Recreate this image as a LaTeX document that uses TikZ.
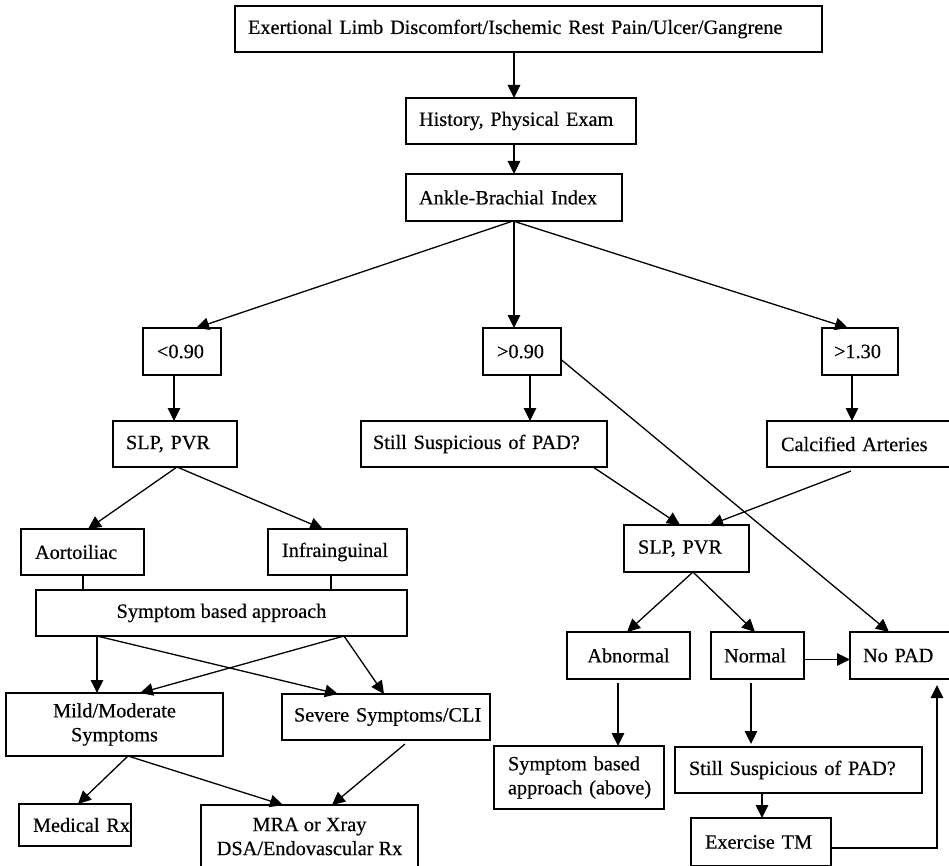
\documentclass[tikz,border=0pt]{standalone}
\usepackage{fontspec}
\setmainfont{Liberation Serif}[FakeBold=0.4]
\usetikzlibrary{arrows.meta,calc}
\begin{document}
\begin{tikzpicture}[x=1pt,y=-1pt,
  box/.style={draw, line width=1.3pt, anchor=north west, outer sep=0pt, inner ysep=0pt,
    font=\fontsize{20.3}{24}\selectfont},
  lbox/.style={box, align=left},
  cbox/.style={box, align=center, inner xsep=0pt},
  arr/.style={line width=1.3pt, -{Triangle[length=13pt,width=12.5pt]}},
  ln/.style={line width=1.3pt}]
\useasboundingbox (0,0) rectangle (949,866);
% nodes
\node[lbox, inner xsep=13pt, text width=561pt, minimum height=46pt] (top) at (235,6) {Exertional Limb Discomfort/Ischemic Rest Pain/Ulcer/Gangrene};
\node[lbox, inner xsep=13pt, text width=204pt, minimum height=46pt] (hist) at (406,98) {History, Physical Exam};
\node[lbox, inner xsep=13pt, text width=190pt, minimum height=47pt] (abi) at (406,174) {Ankle-Brachial Index};
\node[lbox, inner xsep=14pt, text width=50pt, minimum height=47pt] (lt) at (143,328) {\mbox{<0.90}};
\node[lbox, inner xsep=14pt, text width=50pt, minimum height=47pt] (gt) at (483,328) {\mbox{>0.90}};
\node[lbox, inner xsep=12pt, text width=52pt, minimum height=47pt] (gtb) at (822,328) {\mbox{>1.30}};
\node[lbox, inner xsep=13pt, text width=98pt, minimum height=46pt] (slpa) at (113,421) {\mbox{SLP, PVR}};
\node[lbox, inner xsep=12pt, text width=222pt, minimum height=46pt] (stilla) at (361,421) {\mbox{Still Suspicious of PAD?}};
\node[lbox, inner xsep=14pt, text width=156pt, minimum height=46pt] (calc) at (767,421) {\mbox{Calcified Arteries}};
\node[lbox, inner xsep=14pt, text width=95pt, minimum height=46pt] (aorto) at (21,529) {\mbox{Aortoiliac}};
\node[lbox, inner xsep=14pt, text width=111pt, minimum height=46pt] (infra) at (268,529) {\mbox{Infrainguinal}};
\node[lbox, inner xsep=14pt, text width=97pt, minimum height=47pt] (slpb) at (624,525) {\mbox{SLP, PVR}};
\node[cbox, minimum width=371pt, minimum height=46pt] (sba) at (36,590) {Symptom based approach};
\node[cbox, minimum width=123pt, minimum height=47pt] (abn) at (567,632) {Abnormal};
\node[lbox, inner xsep=13pt, text width=67pt, minimum height=47pt] (norm) at (711,632) {\mbox{Normal}};
\node[lbox, inner xsep=13pt, text width=75pt, minimum height=47pt] (nopad) at (850,632) {\mbox{No PAD}};
\node[cbox, minimum width=217pt, minimum height=63pt] (mild) at (6,693) {Mild/Moderate\\Symptoms};
\node[lbox, inner xsep=12pt, text width=184pt, minimum height=46pt] (severe) at (282,694) {\mbox{Severe Symptoms/CLI}};
\node[lbox, inner xsep=14pt, text width=142pt, minimum height=63pt] (sbab) at (494,746) {\mbox{Symptom based}\\\mbox{approach (above)}};
\node[lbox, inner xsep=14pt, text width=219pt, minimum height=46pt] (stillb) at (675,747) {\mbox{Still Suspicious of PAD?}};
\node[lbox, inner xsep=14pt, text width=84pt, minimum height=42pt] (medrx) at (19,804) {\mbox{Medical Rx}};
\node[cbox, minimum width=217pt, minimum height=63pt] (mra) at (201,805) {MRA or Xray\\DSA/Endovascular Rx};
\node[lbox, inner xsep=14pt, text width=112pt, minimum height=48pt] (extm) at (691,818) {\mbox{Exercise TM}};
% connectors
\draw[arr] (514,0 |- top.south) -- (514,0 |- hist.north);
\draw[arr] (514,0 |- hist.south) -- (514,0 |- abi.north);
\coordinate (abis) at (513,0 |- abi.south);
\draw[arr] (abis) -- (196,0 |- lt.north);
\draw[arr] (514,0 |- abi.south) -- (514,0 |- gt.north);
\draw[arr] (abis) -- (848,0 |- gtb.north);
\draw[arr] (174,0 |- lt.south) -- (174,0 |- slpa.north);
\draw[arr] (530,0 |- gt.south) -- (530,0 |- stilla.north);
\draw[arr] (852,0 |- gtb.south) -- (852,0 |- calc.north);
\draw[arr] ([yshift=-8pt]gt.east) -- (889,0 |- nopad.north);
\draw[arr] (177,0 |- slpa.south) -- (88,0 |- aorto.north);
\draw[arr] (177,0 |- slpa.south) -- (323,0 |- infra.north);
\draw[ln] (83,0 |- aorto.south) -- (83,0 |- sba.north);
\draw[ln] (331,0 |- infra.south) -- (331,0 |- sba.north);
\draw[arr] (593,0 |- stilla.south) -- (680,0 |- slpb.north);
\draw[arr] ($(851,0 |- calc.south)+(0,4)$) -- (710,0 |- slpb.north);
\draw[arr] (693,0 |- slpb.south) -- (627,0 |- abn.north);
\draw[arr] (693,0 |- slpb.south) -- (755,0 |- norm.north);
\draw[arr] (97,0 |- sba.south) -- (97,0 |- mild.north);
\draw[arr] (97,0 |- sba.south) -- (338,0 |- severe.north);
\draw[arr] (344,0 |- sba.south) -- (140,0 |- mild.north);
\draw[arr] (344,0 |- sba.south) -- (384,0 |- severe.north);
\draw[arr] ([yshift=-4pt]norm.east) -- ([yshift=-4pt]nopad.west);
\draw[arr] ($(618,0 |- abn.south)+(0,4)$) -- (618,0 |- sbab.north);
\draw[arr] ($(751,0 |- norm.south)+(0,4)$) -- ($(751,0 |- stillb.north)+(0,-3)$);
\draw[arr] (762,0 |- stillb.south) -- (762,0 |- extm.north);
\draw[arr] ([yshift=-6pt]extm.east) -| ($(937,0 |- nopad.south)+(0,6)$);
\draw[arr] (128,0 |- mild.south) -- (78,0 |- medrx.north);
\draw[arr] (128,0 |- mild.south) -- (283,0 |- mra.north);
\draw[arr] ($(405,0 |- severe.south)+(0,4)$) -- (332,0 |- mra.north);
\end{tikzpicture}
\end{document}
